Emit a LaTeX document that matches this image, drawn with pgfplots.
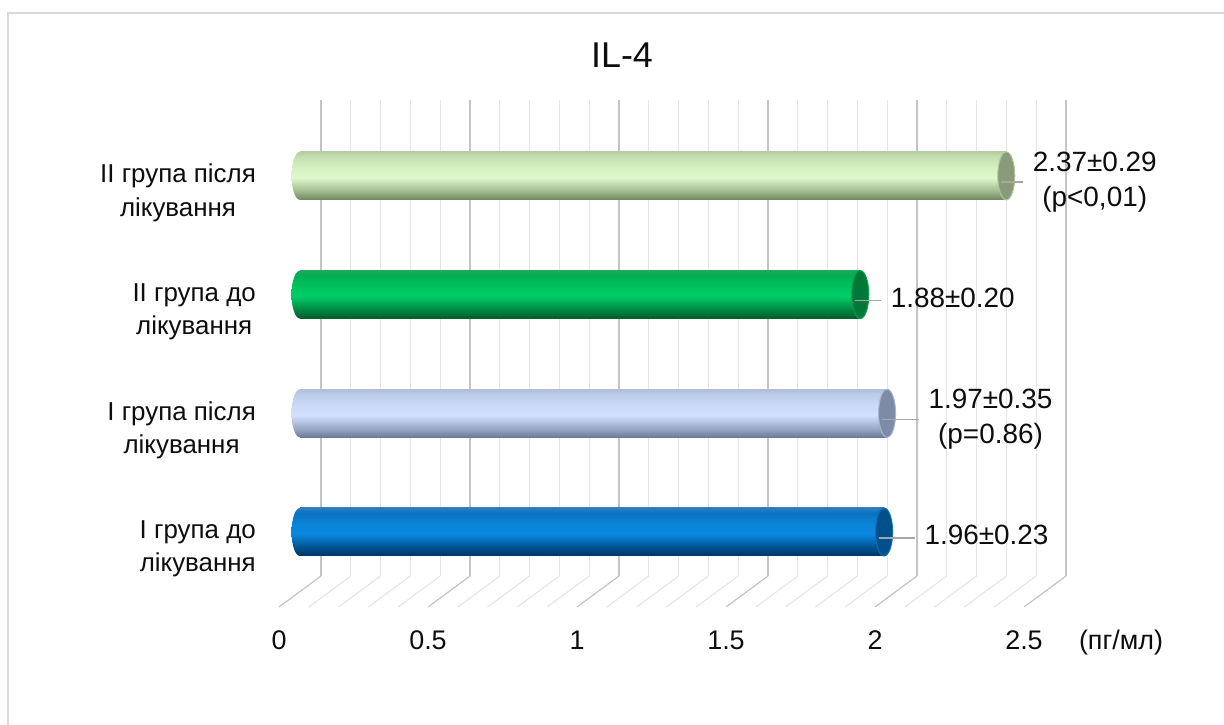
\documentclass[border=0pt]{standalone}
\usepackage{pgfplots}
\pgfplotsset{compat=1.18}
\usepackage{fontspec}
\setmainfont{Liberation Sans}

\definecolor{gridmajor}{HTML}{C4C4C4}
\definecolor{gridminor}{HTML}{E6E6E6}
\definecolor{framegray}{HTML}{D9D9D9}
\definecolor{leader}{HTML}{A6A6A6}
\definecolor{txt}{HTML}{0D0D0D}

% blue cylinder
\definecolor{bA}{HTML}{00355F}\definecolor{bB}{HTML}{004E8A}\definecolor{bC}{HTML}{0A88E0}
\definecolor{bD}{HTML}{0B84D8}\definecolor{bE}{HTML}{0A72C2}\definecolor{bF}{HTML}{2C7EC0}
\definecolor{bCap}{HTML}{00508C}\definecolor{bRim}{HTML}{0B6DB8}
% lavender cylinder
\definecolor{lA}{HTML}{6C7A96}\definecolor{lB}{HTML}{94A3C0}\definecolor{lC}{HTML}{D0E1FF}
\definecolor{lD}{HTML}{CADBF8}\definecolor{lE}{HTML}{BCCBE6}\definecolor{lF}{HTML}{B0BED8}
\definecolor{lCap}{HTML}{7E8BA6}\definecolor{lRim}{HTML}{A6B4CE}
% green cylinder
\definecolor{gA}{HTML}{005C2B}\definecolor{gB}{HTML}{00803E}\definecolor{gC}{HTML}{00CC66}
\definecolor{gD}{HTML}{00C460}\definecolor{gE}{HTML}{00AE52}\definecolor{gF}{HTML}{1FA85A}
\definecolor{gCap}{HTML}{007838}\definecolor{gRim}{HTML}{00A04C}
% light green cylinder
\definecolor{pA}{HTML}{6D865E}\definecolor{pB}{HTML}{9BB488}\definecolor{pC}{HTML}{DEF8CA}
\definecolor{pD}{HTML}{D6F1C2}\definecolor{pE}{HTML}{C4DEAF}\definecolor{pF}{HTML}{B6CFA2}
\definecolor{pCap}{HTML}{8A9B7A}\definecolor{pRim}{HTML}{AEC29C}

\pgfdeclareverticalshading{cylBlue}{100bp}{color(0bp)=(bA); color(25bp)=(bA); color(33bp)=(bB);
  color(48bp)=(bC); color(58bp)=(bD); color(70bp)=(bE); color(75bp)=(bF); color(100bp)=(bF)}
\pgfdeclareverticalshading{cylLav}{100bp}{color(0bp)=(lA); color(25bp)=(lA); color(33bp)=(lB);
  color(48bp)=(lC); color(58bp)=(lD); color(70bp)=(lE); color(75bp)=(lF); color(100bp)=(lF)}
\pgfdeclareverticalshading{cylGreen}{100bp}{color(0bp)=(gA); color(25bp)=(gA); color(33bp)=(gB);
  color(48bp)=(gC); color(58bp)=(gD); color(70bp)=(gE); color(75bp)=(gF); color(100bp)=(gF)}
\pgfdeclareverticalshading{cylPale}{100bp}{color(0bp)=(pA); color(25bp)=(pA); color(33bp)=(pB);
  color(48bp)=(pC); color(58bp)=(pD); color(70bp)=(pE); color(75bp)=(pF); color(100bp)=(pF)}

% rounded base of a cylinder, shaded like its body
\newcommand\declarebase[1]{%
  \pgfdeclareplotmark{base#1}{%
    \pgfpathellipse{\pgfpointorigin}{\pgfqpoint{8.5bp}{0bp}}{\pgfqpoint{0bp}{24bp}}%
    \pgfshadepath{cyl#1}{0}\pgfusepath{}}}
\declarebase{Blue}\declarebase{Lav}\declarebase{Green}\declarebase{Pale}
% flat end face of a cylinder
\pgfdeclareplotmark{endcap}{%
  \pgfpathellipse{\pgfpointorigin}{\pgfqpoint{8.5bp}{0bp}}{\pgfqpoint{0bp}{24bp}}%
  \pgfusepathqfillstroke}

\newcommand\lab{\fontsize{28}{35}\selectfont}
\newcommand\leaderlab[2]{\textcolor{leader}{$\vcenter{\hrule width #1 height 0.7bp depth 0.7bp}$}%
  \hspace{10bp}\begin{tabular}{@{}c@{}}#2\end{tabular}}

\pgfplotsset{
  cyl/.style={xbar, bar width=48bp, bar shift=0pt, draw=none, shading=#1},
  cylbase/.style={only marks, mark=base#1},
  cylend/.style 2 args={only marks, mark=endcap, mark options={fill=#1, draw=#2, line width=1bp}},
  vlabel/.style={nodes near coords={#1},
    every node near coord/.style={anchor=west, inner sep=0pt, xshift=-6bp, yshift=-6bp,
      font=\lab, text=txt}},
}

\begin{document}
\begin{tikzpicture}
\path[use as bounding box] (0,0) rectangle (1224bp,725bp);
\draw[framegray, line width=1.5bp] (8bp,-20bp) -- (8bp,712bp) -- (1250bp,712bp);

\node[font=\fontsize{36}{40}\selectfont, text=txt] at (622bp,670bp) {IL-4};
\node[font=\fontsize{27}{30}\selectfont, text=txt, anchor=base] at (1121bp,75bp) {(пг/мл)};

% back wall and floor grid
\begin{axis}[
  at={(321bp,149bp)}, anchor=south west, scale only axis,
  width=745bp, height=476bp, clip=false,
  xmin=0, xmax=2.5, ymin=0, ymax=1,
  xtick={0,0.5,1,1.5,2,2.5}, xticklabels={0,0.5,1,1.5,2,2.5},
  minor x tick num=4, ytick=\empty,
  xmajorgrids, xminorgrids,
  major grid style={gridmajor, line width=1.2bp},
  minor grid style={gridminor, line width=1.2bp},
  axis line style={draw=none}, tick style={draw=none},
  xticklabel style={font=\fontsize{27}{30}\selectfont, text=txt, anchor=base,
    xshift=-42bp, yshift=-74bp},
]
\pgfplotsinvokeforeach{0.1,0.2,0.3,0.4,0.6,0.7,0.8,0.9,1.1,1.2,1.3,1.4,1.6,1.7,1.8,1.9,2.1,2.2,2.3,2.4}{
  \draw[gridminor, line width=1.2bp] (axis cs:#1,0) -- ++(-42bp,-31bp);}
\pgfplotsinvokeforeach{0,0.5,1,1.5,2,2.5}{
  \draw[gridmajor, line width=1.2bp] (axis cs:#1,0) -- ++(-42bp,-31bp);}
\end{axis}

% cylinders
\begin{axis}[
  at={(256bp,133.65bp)}, anchor=south west,
  x=298bp, y=118.7bp, clip=false,
  xmin=-0.1477, xmax=2.9, ymin=-0.5, ymax=3.5,
  xtick=\empty, ytick={0,1,2,3},
  yticklabels={{I група до\\лікування},{I група після\\лікування},
               {II група до\\лікування},{II група після\\лікування}},
  yticklabel style={align=center, anchor=east, inner sep=0pt, yshift=-17bp,
    font=\fontsize{26}{33.5}\selectfont, text=txt},
  axis line style={draw=none}, tick style={draw=none},
]
% I група до лікування
\addplot[cylbase=Blue] coordinates {(0,0)};
\addplot[cyl=cylBlue] coordinates {(1.96,0)};
\addplot[cylend={bCap}{bRim}, vlabel={\leaderlab{36bp}{1.96±0.23}}] coordinates {(1.96,0)};
% I група після лікування
\addplot[cylbase=Lav] coordinates {(0,1)};
\addplot[cyl=cylLav] coordinates {(1.97,1)};
\addplot[cylend={lCap}{lRim}, vlabel={\leaderlab{37bp}{1.97±0.35\\(p=0.86)}}] coordinates {(1.97,1)};
% II група до лікування
\addplot[cylbase=Green] coordinates {(0,2)};
\addplot[cyl=cylGreen] coordinates {(1.88,2)};
\addplot[cylend={gCap}{gRim}, vlabel={\leaderlab{26bp}{1.88±0.20}}] coordinates {(1.88,2)};
% II група після лікування
\addplot[cylbase=Pale] coordinates {(0,3)};
\addplot[cyl=cylPale] coordinates {(2.37,3)};
\addplot[cylend={pCap}{pRim}, vlabel={\leaderlab{22bp}{2.37±0.29\\(p<0,01)}}] coordinates {(2.37,3)};
\end{axis}
\end{tikzpicture}
\end{document}
